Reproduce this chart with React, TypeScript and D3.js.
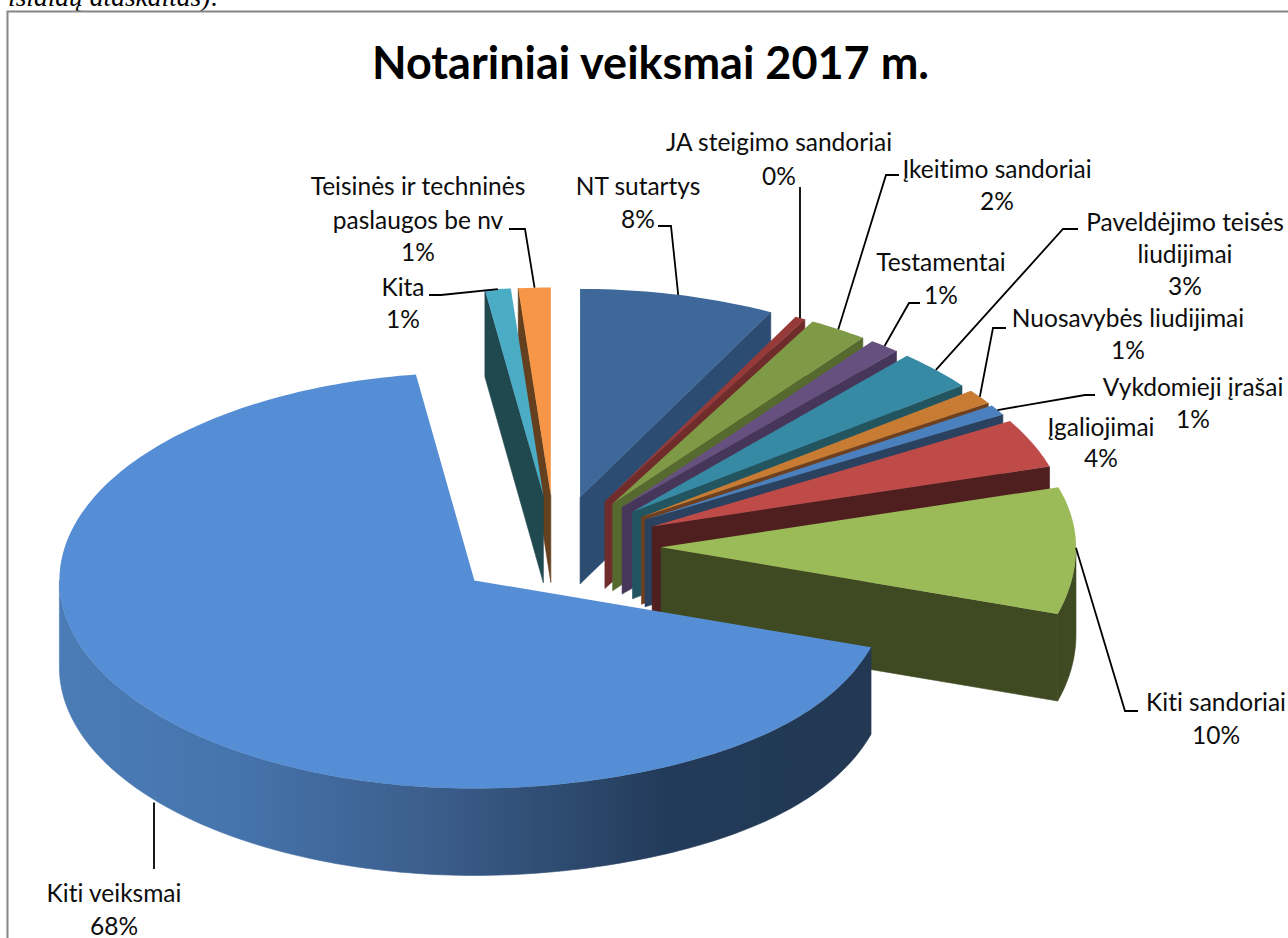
import React from "react";
import * as d3 from "d3";

const categories = ["NT sutartys","JA steigimo sandoriai","Įkeitimo sandoriai","Testamentai","Paveldėjimo teisės liudijimai","Nuosavybės liudijimai","Vykdomieji įrašai","Įgaliojimai","Kiti sandoriai","Kiti veiksmai","Kita","Teisinės ir techninės paslaugos be nv"];
const values = [7.6,0.4,2.3,1.2,3.1,1.15,0.8,3.8,9.4,68.0,1.0,1.25];
const topColors = ["#3e6899","#953a38","#7e9a46","#66507f","#378aa3","#c77b33","#4a80bd","#be4b48","#9bbb59","#558ed5","#4bacc6","#f79646"];
const wallColors = ["#2d4c72","#6f2c2a","#566a30","#46375a","#235560","#6e4020","#2a415f","#4f1f1f","#404a22","url(#wallGrad)","#20484f","#64401e"];
// painter's order, back to front
const drawOrder = [0,1,2,3,4,5,6,7,8,11,10,9];

// label text: [line, centre x, baseline y]
const labelLines: [string, number, number][][] = [
  [["NT sutartys",638,195],["8%",638,228]],
  [["JA steigimo sandoriai",779,151],["0%",779,185]],
  [["Įkeitimo sandoriai",997,178],["2%",997,210]],
  [["Testamentai",941,271],["1%",941,304]],
  [["Paveldėjimo teisės",1185,231],["liudijimai",1185,263],["3%",1185,295]],
  [["Nuosavybės liudijimai",1128,327],["1%",1128,359]],
  [["Vykdomieji įrašai",1193,396],["1%",1193,428]],
  [["Įgaliojimai",1101,436],["4%",1101,467]],
  [["Kiti sandoriai",1216,711],["10%",1216,744]],
  [["Kiti veiksmai",114,902],["68%",114,935]],
  [["Kita",403,296],["1%",403,328]],
  [["Teisinės ir techninės",418,195],["paslaugos be nv",418,229],["1%",418,261]],
];
// leader elbows, from the slice rim outward to the label
const leaderBends: [number, number][][] = [
  [[671,226],[658,226]],
  [[800,187]],
  [[886,175],[899,175]],
  [[909,303],[920,303]],
  [[1063,229],[1078,229]],
  [[993,328],[1006,328]],
  [[1085,395],[1095,395]],
  [],
  [[1125,711],[1138,711]],
  [[154,869]],
  [[441,295],[429,295]],
  [[525,229],[509,229]],
];

const CX = 555, CY = 547, EXPLODE = 106, EXPLODE_KY = 0.486;
const RX = 415, RY = 208, DEPTH = 87, SKEW = 22;
const FONT = "Lato, 'Open Sans', sans-serif";

const pieGen = d3.pie<number>().sort(null).value((d) => d);
const arcs = pieGen(values);
const lineGen = d3.line<[number, number]>().x((d) => d[0]).y((d) => d[1]);

function geometry(i: number) {
  const a = arcs[i];
  const mid = (a.startAngle + a.endAngle) / 2;
  const ax = CX + EXPLODE * Math.sin(mid);
  const ay = CY - EXPLODE * EXPLODE_KY * Math.cos(mid);
  const rim = (t: number, dz = 0): [number, number] => {
    const s = Math.sin(t), c = Math.cos(t);
    const bend = s > 0 && c < 0 ? SKEW * s * s * s * -c : 0;
    return [ax + RX * s, ay - RY * c + bend + dz];
  };
  return { a, mid, ax, ay, rim };
}
function sample(t0: number, t1: number): number[] {
  const n = Math.max(2, Math.ceil(Math.abs(t1 - t0) / 0.02));
  return d3.range(n + 1).map((k) => t0 + ((t1 - t0) * k) / n);
}

function Slice({ i }: { i: number }) {
  const { a, ax, ay, rim } = geometry(i);
  const s = a.startAngle, e = a.endAngle;
  const top: [number, number][] = [[ax, ay], ...sample(s, e).map((t) => rim(t))];
  const walls: [number, number][][] = [];
  if (Math.sin(s) < 0) walls.push([[ax, ay], rim(s), rim(s, DEPTH), [ax, ay + DEPTH]]);
  if (Math.sin(e) > 0) walls.push([[ax, ay], rim(e), rim(e, DEPTH), [ax, ay + DEPTH]]);
  const w0 = Math.max(s, Math.PI / 2), w1 = Math.min(e, (3 * Math.PI) / 2);
  if (w1 > w0) {
    const ts = sample(w0, w1);
    walls.push([...ts.map((t) => rim(t)), ...ts.slice().reverse().map((t) => rim(t, DEPTH))]);
  }
  return (
    <g>
      {walls.map((w, k) => (
        <path key={k} d={lineGen(w) + "Z"} fill={wallColors[i]} stroke={wallColors[i]} strokeWidth={0.6} />
      ))}
      <path d={lineGen(top) + "Z"} fill={topColors[i]} />
    </g>
  );
}

function Leader({ i }: { i: number }) {
  const { mid, rim } = geometry(i);
  const bends = leaderBends[i];
  if (!bends.length) return null;
  const dz = Math.cos(mid) < -0.3 ? DEPTH : 0;
  const start = rim(mid, dz);
  // a single-segment leader drops straight from the rim
  if (bends.length === 1) start[0] = bends[0][0];
  const pts: [number, number][] = [start, ...bends];
  return <path d={lineGen(pts) ?? ""} fill="none" stroke="#000" strokeWidth={1.8} />;
}

export default function App() {
  return (
    <svg width={1288} height={938} style={{ position: "absolute", left: 0, top: 0, display: "block", background: "#fff", fontVariantLigatures: "none" }}>
      <defs>
        <linearGradient id="wallGrad" gradientUnits="userSpaceOnUse" x1={58} x2={870} y1={0} y2={0}>
          <stop offset="0" stopColor="#4c7cb6" />
          <stop offset="0.2" stopColor="#4675ae" />
          <stop offset="0.45" stopColor="#3c5f8d" />
          <stop offset="0.75" stopColor="#233b5a" />
          <stop offset="1" stopColor="#223853" />
        </linearGradient>
      </defs>
      <text x={8} y={6} fontFamily="'Liberation Serif', serif" fontStyle="italic" fontSize={27.5} fill="#000">išlaidų ataskaitas):</text>
      <rect x={7.5} y={11.5} width={1300} height={950} fill="#fff" stroke="#868686" strokeWidth={2} />
      <text x={650.5} y={79} textAnchor="middle" fontFamily={FONT} fontWeight={700} fontSize={45} fill="#000">Notariniai veiksmai 2017 m.</text>
      {drawOrder.map((i) => <Slice key={i} i={i} />)}
      {categories.map((c, i) => <Leader key={c} i={i} />)}
      {categories.map((c, i) => (
        <g key={c} fontFamily={FONT} fontSize={24.5} fill="#0d0d0d" textAnchor="middle">
          {labelLines[i].map(([t, x, y], k) => (
            <text key={k} x={x} y={y}>{t}</text>
          ))}
        </g>
      ))}
    </svg>
  );
}
